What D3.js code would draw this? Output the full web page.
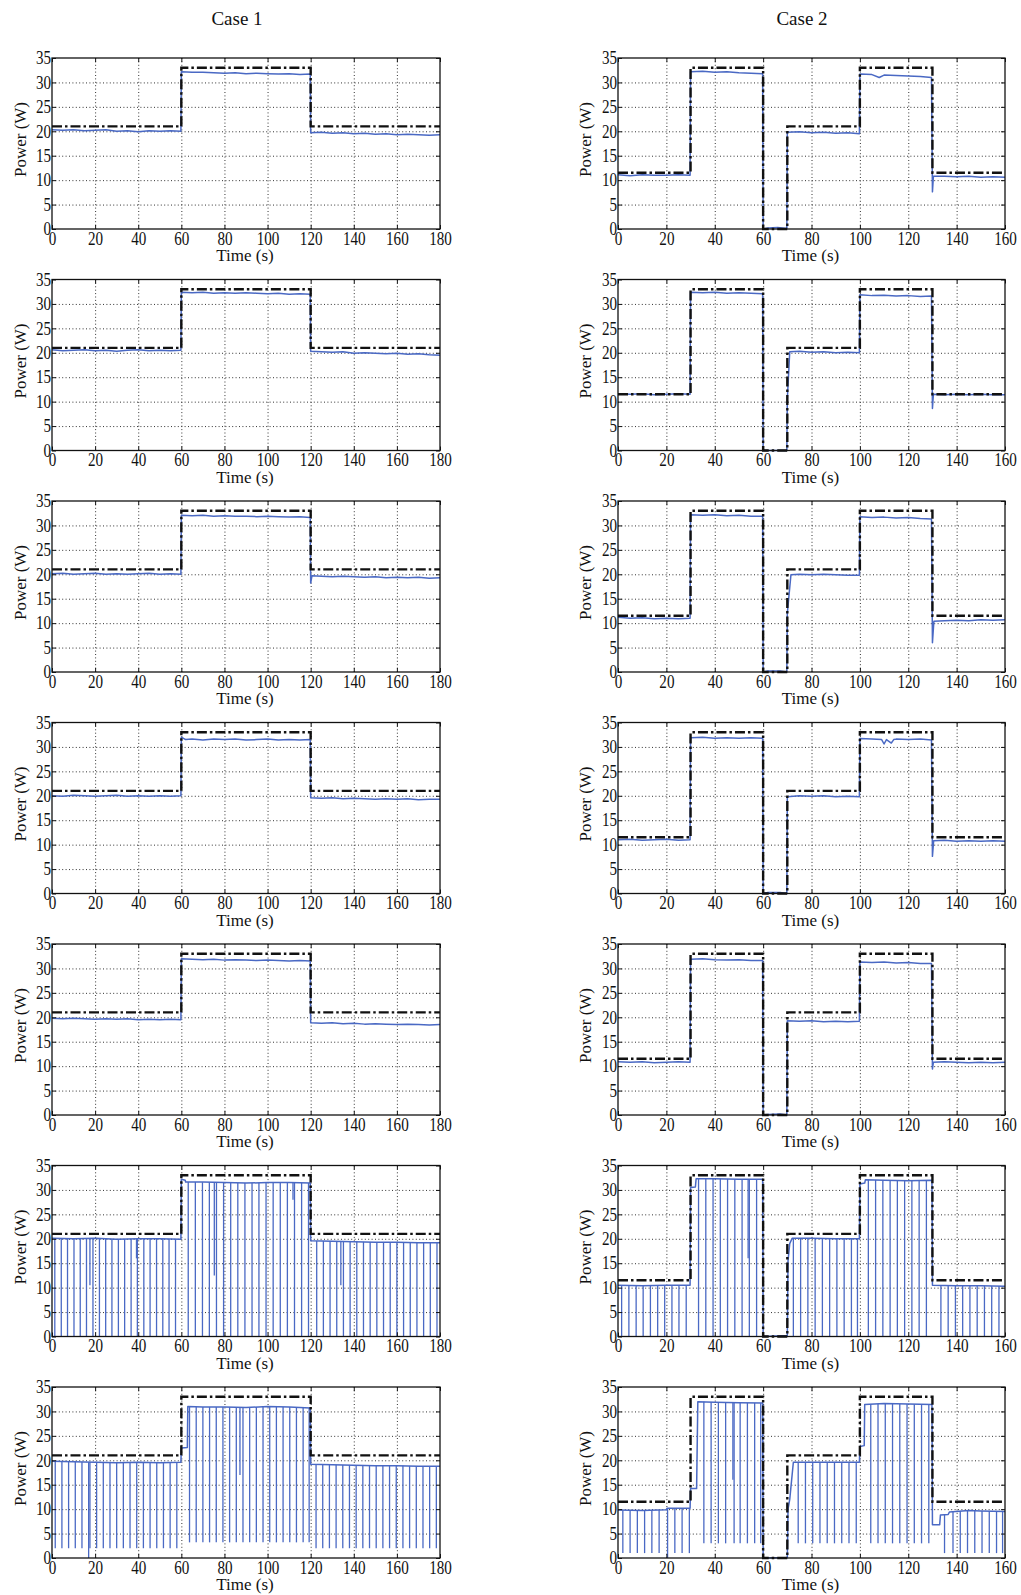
<!DOCTYPE html>
<html>
<head>
<meta charset="utf-8">
<script src="https://cdn.jsdelivr.net/npm/d3@7"></script>
<style>
  body { margin: 0; background: #fff; }
  svg text { font-family: "Liberation Serif", "Times New Roman", serif; fill: #111; }
</style>
</head>
<body>
<svg id="fig" width="1021" height="1595"></svg>
<script>
// ---- data ----
var caseTitles = ["Case 1", "Case 2"];
var case1Ticks = [0, 20, 40, 60, 80, 100, 120, 140, 160, 180];
var case2Ticks = [0, 20, 40, 60, 80, 100, 120, 140, 160];
var powerTicks = [0, 5, 10, 15, 20, 25, 30, 35];

// reference power (black dash-dot)
var case1Ref = [[0,21],[60,21],[60,33],[120,33],[120,21],[180,21]];
var case2Ref = [[0,11.5],[30,11.5],[30,33],[60,33],[60,0],[70,0],[70,21],[100,21],[100,33],[130,33],[130,11.5],[160,11.5]];

// measured power (blue), case 1
var case1Row1 = [[0,20.3],[5,20.2],[10,20.3],[15,20.1],[20,20.2],[25,20.3],[30,20.0],[35,20.1],[40,19.9],[45,20.1],[50,20.0],[55,20.1],[59.8,20.0],[60,32.2],[65,32.1],[70,32.1],[75,32.0],[80,31.9],[85,32.0],[90,31.8],[95,31.9],[100,31.8],[105,31.7],[110,31.8],[115,31.6],[119.8,31.7],[120,19.7],[125,19.8],[130,19.6],[135,19.7],[140,19.5],[145,19.6],[150,19.4],[155,19.5],[160,19.3],[165,19.4],[170,19.3],[175,19.2],[180,19.3]];
var case1Row2 = [[0,20.6],[5,20.4],[10,20.5],[15,20.6],[20,20.4],[25,20.5],[30,20.3],[35,20.5],[40,20.6],[45,20.4],[50,20.5],[55,20.4],[59.8,20.5],[60,32.4],[65,32.3],[70,32.4],[75,32.2],[80,32.3],[85,32.2],[90,32.3],[95,32.2],[100,32.1],[105,32.2],[110,32.0],[115,32.1],[119.8,32.0],[120,20.3],[125,20.2],[130,20.1],[135,20.2],[140,19.9],[145,20.0],[150,19.9],[155,19.8],[160,19.9],[165,19.7],[170,19.8],[175,19.6],[180,19.5]];
var case1Row3 = [[0,20.1],[5,20.2],[10,20.0],[15,20.1],[20,20.2],[25,20.0],[30,20.1],[35,20.0],[40,20.1],[45,20.2],[50,20.0],[55,20.1],[59.8,20.0],[60,32.1],[65,32.0],[70,32.1],[75,31.9],[80,32.0],[85,31.9],[90,31.9],[95,31.8],[100,31.9],[105,31.8],[110,31.7],[115,31.8],[119.8,31.6],[120,18.2],[120.6,19.7],[125,19.6],[130,19.5],[135,19.6],[140,19.5],[145,19.4],[150,19.5],[155,19.3],[160,19.4],[165,19.3],[170,19.4],[175,19.2],[180,19.3]];
var case1Row4 = [[0,20.0],[5,19.9],[10,20.1],[15,20.0],[20,19.9],[25,20.0],[30,20.1],[35,19.9],[40,20.0],[45,19.9],[50,20.0],[55,19.9],[59.8,20.0],[60,32.0],[62,31.5],[65,31.6],[70,31.4],[75,31.6],[80,31.5],[85,31.6],[90,31.4],[95,31.5],[100,31.6],[105,31.4],[110,31.5],[115,31.4],[119.8,31.5],[120,19.6],[125,19.5],[130,19.6],[135,19.4],[140,19.5],[145,19.4],[150,19.3],[155,19.4],[160,19.3],[165,19.4],[170,19.2],[175,19.3],[180,19.3]];
var case1Row5 = [[0,19.8],[5,19.7],[10,19.8],[15,19.7],[20,19.6],[25,19.7],[30,19.6],[35,19.7],[40,19.5],[45,19.6],[50,19.5],[55,19.6],[59.8,19.5],[60,32.0],[65,31.9],[70,31.8],[75,31.9],[80,31.7],[85,31.8],[90,31.7],[95,31.6],[100,31.7],[105,31.6],[110,31.5],[115,31.6],[119.8,31.5],[120,18.9],[125,18.8],[130,18.9],[135,18.7],[140,18.8],[145,18.6],[150,18.7],[155,18.6],[160,18.5],[165,18.6],[170,18.5],[175,18.4],[180,18.5]];
var case1Row6 = [[0,20.1],[10,20.0],[20,20.1],[30,19.9],[40,20.0],[50,20.0],[59.8,19.9],[60,32.2],[61.8,32.0],[62,31.6],[70,31.6],[80,31.5],[90,31.4],[100,31.5],[110,31.5],[119.8,31.4],[120,19.6],[130,19.5],[140,19.4],[150,19.3],[160,19.3],[170,19.2],[180,19.2]];
var case1Row7 = [[0,19.8],[10,19.7],[20,19.6],[30,19.5],[40,19.6],[50,19.5],[59.8,19.6],[60,22.5],[62.8,22.6],[63,31.0],[70,30.9],[80,30.9],[90,30.8],[100,31.0],[110,30.9],[119.8,30.7],[120,19.2],[130,19.1],[140,19.0],[150,18.9],[160,18.9],[170,18.8],[180,18.8]];

// measured power (blue), case 2
var case2Row1 = [[0,11.1],[5,10.9],[10,11.1],[15,11.0],[20,11.0],[25,11.1],[29.8,11.0],[30,32.2],[35,32.3],[40,32.1],[45,32.2],[50,32.0],[55,31.9],[59.8,31.8],[60,0],[62,0.2],[66,0.3],[69.8,0.1],[70,19.8],[75,19.9],[80,19.7],[85,19.8],[90,19.6],[95,19.7],[99.8,19.5],[100,31.7],[105,31.6],[108,31.0],[110,31.5],[115,31.4],[120,31.3],[125,31.2],[129.6,31.0],[130,7.6],[130.4,10.8],[135,10.8],[140,10.7],[145,10.8],[150,10.6],[155,10.7],[160,10.6]];
var case2Row2 = [[0,11.6],[5,11.5],[10,11.6],[15,11.4],[20,11.5],[25,11.6],[29.8,11.5],[30,32.4],[35,32.3],[40,32.4],[45,32.2],[50,32.3],[55,32.2],[59.8,32.1],[60,0],[65,0],[69.8,0],[70,10.5],[71,20.2],[75,20.3],[80,20.1],[85,20.2],[90,20.0],[95,20.1],[99.8,20.0],[100,31.9],[105,31.7],[110,31.8],[115,31.6],[120,31.7],[125,31.5],[129.6,31.6],[130,8.6],[130.4,11.5],[135,11.4],[140,11.5],[145,11.4],[150,11.5],[155,11.4],[160,11.4]];
var case2Row3 = [[0,11.2],[5,11.0],[10,11.1],[15,10.9],[20,11.0],[25,10.9],[29.8,11.0],[30,32.2],[35,32.1],[40,32.2],[45,32.0],[50,32.1],[55,31.9],[59.8,31.9],[60,0],[62,0.2],[67,0.2],[69.8,0],[70,12],[71.5,19.9],[75,20.0],[80,19.9],[85,20.0],[90,19.9],[95,19.8],[99.8,19.8],[100,31.8],[105,31.6],[110,31.7],[115,31.5],[120,31.6],[125,31.4],[129.6,31.3],[130,6.0],[130.6,10.4],[135,10.5],[140,10.6],[145,10.5],[150,10.7],[155,10.6],[160,10.7]];
var case2Row4 = [[0,11.0],[5,11.1],[10,10.9],[15,11.0],[20,11.1],[25,10.9],[29.8,11.0],[30,31.9],[35,32.0],[40,31.8],[45,31.9],[50,31.8],[55,31.9],[59.8,31.8],[60,0],[62,0.2],[67,0.2],[69.8,0],[70,19.8],[75,20.0],[80,19.9],[85,20.0],[90,19.8],[95,19.9],[99.8,19.8],[100,31.7],[105,31.6],[109,31.5],[110,30.6],[111,31.5],[113,30.8],[114,31.5],[115,31.6],[120,31.5],[125,31.6],[129.6,31.4],[130,7.6],[130.5,10.8],[135,10.9],[140,10.7],[145,10.8],[150,10.7],[155,10.8],[160,10.7]];
var case2Row5 = [[0,10.9],[5,10.8],[10,10.9],[15,10.7],[20,10.8],[25,10.9],[29.8,10.8],[30,31.9],[35,32.0],[40,31.8],[45,31.7],[50,31.8],[55,31.6],[59.8,31.6],[60,0],[62,0.1],[67,0.2],[69.8,0],[70,19.3],[75,19.2],[80,19.3],[85,19.1],[90,19.2],[95,19.1],[99.8,19.2],[100,31.3],[105,31.2],[110,31.3],[115,31.1],[120,31.2],[125,31.0],[129.6,31.0],[130,9.4],[130.4,10.8],[135,10.9],[140,10.8],[145,10.7],[150,10.8],[155,10.7],[160,10.8]];
var case2Row6 = [[0,10.5],[10,10.4],[20,10.5],[29.8,10.5],[30,30.5],[32,30.6],[32.3,32.3],[40,32.3],[50,32.2],[59.8,32.2],[60,0],[70,0.2],[70.3,15.5],[71,19.0],[72,20.1],[80,20.1],[90,20.0],[99.8,20.0],[100,31.2],[102,31.4],[102.3,32.1],[110,32.0],[120,31.9],[129.8,32.0],[130,10.5],[140,10.4],[150,10.4],[160,10.3]];
var case2Row7 = [[0,9.8],[10,9.7],[20,9.9],[20.3,10.2],[29.8,10.2],[30,14.2],[32.5,14.2],[33,32.0],[40,31.9],[50,31.8],[59.8,31.7],[60,0],[70,0.1],[70.3,10],[71,12],[72.5,19.6],[80,19.6],[90,19.6],[99.8,19.6],[100,22.8],[101.8,23.0],[102,31.4],[110,31.6],[120,31.5],[129.8,31.4],[130,6.8],[133,6.8],[133.3,8.8],[136.5,8.9],[137,9.4],[145,9.7],[150,9.6],[160,9.5]];

// periodic dips in rows 6 and 7: [time, lowest power]
var case1Row6Dips = [[1.3,0],[4.3,0],[7.2,0],[10.2,0],[13.1,0],[16.0,0],[17.6,10.5],[19.0,0],[22.0,0],[24.9,0],[27.8,0],[30.8,0],[33.7,0],[36.7,0],[39.2,16],[39.6,0],[42.6,0],[45.5,0],[48.5,0],[51.4,0],[54.3,0],[57.3,0],
  [63.2,0],[66.5,0],[69.8,0],[73.0,0],[75.3,12.5],[76.3,0],[79.6,0],[82.9,0],[86.2,0],[89.5,0],[92.8,0],[96.0,0],[99.3,0],[102.6,0],[105.9,0],[109.2,0],[111.8,28],[112.5,0],[115.8,0],[119.0,0],
  [122.8,0],[125.9,0],[129.0,0],[132.1,0],[134.0,10.5],[135.2,0],[138.3,0],[141.4,0],[144.5,0],[147.6,0],[150.7,0],[153.8,0],[156.9,0],[160.0,0],[163.1,0],[166.2,0],[169.3,0],[172.4,0],[175.5,0],[178.6,0]];
var case1Row7Dips = [[1.5,2],[4.6,2],[7.7,2],[10.8,2],[13.9,2],[17.0,0],[17.6,2],[20.7,2],[23.8,2],[26.9,2],[30.0,2],[33.1,2],[36.2,2],[39.3,2],[42.4,2],[45.5,2],[48.6,2],[51.7,2],[54.8,2],[57.9,2],
  [63.8,3.2],[66.9,3.2],[70.0,3.2],[73.1,3.2],[76.2,3.2],[79.3,3.2],[82.4,3.2],[85.5,3.2],[87.2,17],[88.6,3.2],[91.7,3.2],[94.8,3.2],[97.9,3.2],[101.0,3.2],[104.1,3.2],[107.2,3.2],[110.3,3.2],[113.4,3.2],[116.5,3.2],[119.3,3.2],
  [122.5,2],[125.6,2],[128.7,2],[131.8,2],[134.9,2],[138.0,2],[141.1,2],[144.2,2],[147.3,2],[150.4,2],[153.5,2],[156.6,2],[159.7,2],[162.8,2],[165.9,2],[169.0,2],[172.1,2],[175.2,2],[178.3,2]];
var case2Row6Dips = [[1.5,0],[4.5,0],[7.5,0],[10.4,0],[13.4,0],[16.4,0],[19.3,0],[22.3,0],[25.2,0],[28.2,0],
  [33.3,0],[36.3,0],[39.3,0],[42.3,0],[45.3,0],[48.3,0],[51.3,0],[53.8,16],[54.3,0],[57.3,0],
  [72.5,0],[75.5,0],[78.5,0],[81.5,0],[84.5,0],[87.5,0],[90.5,0],[93.5,0],[96.5,0],[99.0,0],
  [103.5,0],[106.5,0],[109.5,0],[112.5,0],[115.5,0],[118.5,0],[121.5,0],[124.5,0],[127.5,0],
  [133.5,0],[136.5,0],[139.5,0],[142.5,0],[145.5,0],[148.5,0],[151.5,0],[154.5,0],[157.5,0]];
var case2Row7Dips = [[2.0,1],[5.0,1],[8.0,1],[11.0,1],[14.0,1],[17.0,1],[20.5,0],[23.5,1],[26.5,1],[29.5,1],
  [35.5,3],[38.5,3],[41.5,3],[44.5,3],[47.5,16],[48.0,3],[50.5,3],[53.5,3],[56.5,3],[59.0,3],
  [74.5,3],[77.5,3],[80.5,3],[83.5,3],[86.5,3],[89.5,3],[92.5,3],[95.5,3],[98.5,3],
  [104.5,3],[107.5,3],[110.5,3],[113.5,3],[116.5,3],[119.5,3],[122.5,3],[125.5,3],[128.5,3],
  [135.0,1],[138.5,1],[141.5,1],[144.5,1],[147.5,1],[150.5,1],[153.5,1],[156.5,1],[159.0,1]];

var case1Series = [case1Row1, case1Row2, case1Row3, case1Row4, case1Row5, case1Row6, case1Row7];
var case2Series = [case2Row1, case2Row2, case2Row3, case2Row4, case2Row5, case2Row6, case2Row7];
var case1Dips = [null, null, null, null, null, case1Row6Dips, case1Row7Dips];
var case2Dips = [null, null, null, null, null, case2Row6Dips, case2Row7Dips];

// ---- layout ----
var svg = d3.select("#fig");
var plotH = 171;
var rowTop0 = 58, rowStep = 221.5;
var cols = [
  { left: 52,  width: 388, xMax: 180, ticks: case1Ticks, ref: case1Ref, series: case1Series, dips: case1Dips, titleX: 237, ylabX: 20 },
  { left: 618, width: 387, xMax: 160, ticks: case2Ticks, ref: case2Ref, series: case2Series, dips: case2Dips, titleX: 802, ylabX: 585 }
];
var blue = "#4a69c4";

cols.forEach(function(c, ci) {
  svg.append("text")
    .attr("x", c.titleX).attr("y", 25)
    .attr("text-anchor", "middle")
    .style("font-size", "19px")
    .text(caseTitles[ci]);

  for (var r = 0; r < 7; r++) {
    drawPanel(c, rowTop0 + r * rowStep, c.series[r], c.dips[r]);
  }
});

function drawPanel(c, top, data, dips) {
  var x = d3.scaleLinear().domain([0, c.xMax]).range([0, c.width]);
  var y = d3.scaleLinear().domain([0, 35]).range([plotH, 0]);
  var g = svg.append("g").attr("transform", "translate(" + c.left + "," + top + ")");

  // dotted grid
  var gx = g.append("g").attr("transform", "translate(0," + plotH + ")")
    .call(d3.axisBottom(x).tickValues(c.ticks.slice(1, -1)).tickSize(-plotH).tickFormat(""));
  var gy = g.append("g")
    .call(d3.axisLeft(y).tickValues(powerTicks.slice(1, -1)).tickSize(-c.width).tickFormat(""));
  [gx, gy].forEach(function(a) {
    a.select(".domain").remove();
    a.selectAll("line").attr("stroke", "#333").attr("stroke-width", 1).attr("stroke-dasharray", "1,2.4");
  });

  var line = d3.line().x(function(d) { return x(d[0]); }).y(function(d) { return y(d[1]); });

  // measured power
  g.append("path").datum(data)
    .attr("d", line).attr("fill", "none")
    .attr("stroke", blue).attr("stroke-width", 1.5).attr("stroke-linejoin", "round");

  if (dips) {
    var bis = d3.bisector(function(d) { return d[0]; }).right;
    var levelAt = function(t) {
      var i = Math.max(1, Math.min(data.length - 1, bis(data, t)));
      var a = data[i - 1], b = data[i];
      return a[1] + (b[1] - a[1]) * (t - a[0]) / (b[0] - a[0]);
    };
    g.append("g").selectAll("line").data(dips).join("line")
      .attr("x1", function(d) { return x(d[0]); })
      .attr("x2", function(d) { return x(d[0]); })
      .attr("y1", function(d) { return y(levelAt(d[0])); })
      .attr("y2", function(d) { return y(d[1]); })
      .attr("stroke", blue).attr("stroke-width", 1.3);
  }

  // reference power
  g.append("path").datum(c.ref)
    .attr("d", line).attr("fill", "none")
    .attr("stroke", "#111").attr("stroke-width", 2.4)
    .attr("stroke-dasharray", "10,3,2.5,3");

  // frame
  g.append("rect").attr("width", c.width).attr("height", plotH)
    .attr("fill", "none").attr("stroke", "#111").attr("stroke-width", 1.3);

  // axes with inward ticks
  var ax = g.append("g").attr("transform", "translate(0," + plotH + ")")
    .call(d3.axisBottom(x).tickValues(c.ticks).tickSizeInner(-4).tickSizeOuter(0).tickPadding(3));
  var ay = g.append("g")
    .call(d3.axisLeft(y).tickValues(powerTicks).tickSizeInner(-4).tickSizeOuter(0).tickPadding(1));
  var axt = g.append("g")
    .call(d3.axisTop(x).tickValues(c.ticks).tickSizeInner(-4).tickSizeOuter(0).tickFormat(""));
  var ayr = g.append("g").attr("transform", "translate(" + c.width + ",0)")
    .call(d3.axisRight(y).tickValues(powerTicks).tickSizeInner(-4).tickSizeOuter(0).tickFormat(""));
  [ax, ay, axt, ayr].forEach(function(a) {
    a.select(".domain").remove();
    a.selectAll("line").attr("stroke", "#111");
    a.selectAll("text")
      .attr("fill", "#111")
      .style("font-family", '"Liberation Serif", "Times New Roman", serif')
      .style("font-size", "18px");
  });
  ax.selectAll("text").attr("transform", "scale(0.84,1)");
  ay.selectAll("text").attr("transform", "scale(0.84,1)");

  // axis titles
  g.append("text")
    .attr("x", c.width / 2 - 1).attr("y", plotH + 32)
    .attr("text-anchor", "middle").style("font-size", "17px")
    .text("Time (s)");
  g.append("text")
    .attr("transform", "translate(" + (c.ylabX - c.left + 6) + "," + (plotH / 2 - 4) + ") rotate(-90)")
    .attr("text-anchor", "middle").style("font-size", "17px")
    .text("Power (W)");
}
</script>
</body>
</html>
